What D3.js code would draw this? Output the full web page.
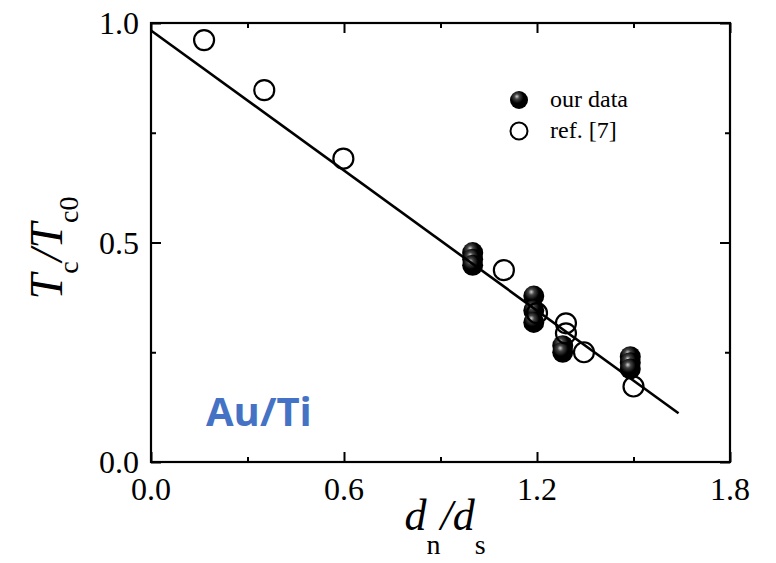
<!DOCTYPE html>
<html>
<head>
<meta charset="utf-8">
<script src="https://cdn.jsdelivr.net/npm/d3@7"></script>
<style>
  body { margin: 0; background: #fff; }
  text { font-family: "Liberation Serif", "Times New Roman", serif; }
</style>
</head>
<body>
<div id="chart"></div>
<script>
// values
var ourX = [1.0, 1.0, 1.0, 1.19, 1.19, 1.19, 1.28, 1.28, 1.49, 1.49, 1.49];
var ourY = [0.477, 0.462, 0.448, 0.378, 0.345, 0.318, 0.265, 0.25, 0.24, 0.226, 0.212];
var refX = [0.165, 0.352, 0.598, 1.097, 1.2, 1.29, 1.29, 1.346, 1.5];
var refY = [0.961, 0.847, 0.691, 0.437, 0.339, 0.316, 0.293, 0.25, 0.172];
var fitX = [0, 1.64];
var fitY = [0.983, 0.111];
var xMajor = [0, 0.6, 1.2, 1.8];
var xMinor = [0.3, 0.9, 1.5];
var yMajor = [0, 0.5, 1.0];
var yMinor = [0.25, 0.75];

var width = 776, height = 563;
var pL = 151, pR = 730, pT = 23, pB = 462;

var svg = d3.select('#chart').append('svg')
    .attr('width', width)
    .attr('height', height);

var x = d3.scaleLinear().domain([0, 1.8]).range([pL, pR]);
var y = d3.scaleLinear().domain([0, 1.0]).range([pB, pT]);

// gradient for the shiny filled balls
var grad = svg.append('defs').append('radialGradient')
    .attr('id', 'ball')
    .attr('cx', '40%').attr('cy', '35%').attr('r', '65%')
    .attr('fx', '38%').attr('fy', '30%');
grad.append('stop').attr('offset', '0%').attr('stop-color', '#d0d0d0');
grad.append('stop').attr('offset', '22%').attr('stop-color', '#444');
grad.append('stop').attr('offset', '55%').attr('stop-color', '#000');

// ticks on all four sides, pointing in
var axes = svg.append('g');
axes.append('g').attr('transform', 'translate(0,' + pB + ')')
  .call(d3.axisTop(x).tickValues(xMajor).tickSize(10).tickFormat(''));
axes.append('g').attr('transform', 'translate(0,' + pB + ')')
  .call(d3.axisTop(x).tickValues(xMinor).tickSize(5).tickFormat(''));
axes.append('g').attr('transform', 'translate(0,' + pT + ')')
  .call(d3.axisBottom(x).tickValues(xMajor).tickSize(10).tickFormat(''));
axes.append('g').attr('transform', 'translate(0,' + pT + ')')
  .call(d3.axisBottom(x).tickValues(xMinor).tickSize(5).tickFormat(''));
axes.append('g').attr('transform', 'translate(' + pL + ',0)')
  .call(d3.axisRight(y).tickValues(yMajor).tickSize(10).tickFormat(''));
axes.append('g').attr('transform', 'translate(' + pL + ',0)')
  .call(d3.axisRight(y).tickValues(yMinor).tickSize(5).tickFormat(''));
axes.append('g').attr('transform', 'translate(' + pR + ',0)')
  .call(d3.axisLeft(y).tickValues(yMajor).tickSize(10).tickFormat(''));
axes.append('g').attr('transform', 'translate(' + pR + ',0)')
  .call(d3.axisLeft(y).tickValues(yMinor).tickSize(5).tickFormat(''));
axes.selectAll('.domain').remove();
axes.selectAll('.tick line').attr('stroke', '#000').attr('stroke-width', 2);

svg.append('rect')
    .attr('x', pL).attr('y', pT)
    .attr('width', pR - pL).attr('height', pB - pT)
    .attr('fill', 'none').attr('stroke', '#000').attr('stroke-width', 2.2);

// tick labels
svg.append('g').selectAll('text')
  .data(xMajor).enter().append('text')
    .attr('x', function(d) { return x(d); })
    .attr('y', pB + 38)
    .attr('text-anchor', 'middle')
    .attr('font-size', 32)
    .text(function(d) { return d3.format('.1f')(d); });
svg.append('g').selectAll('text')
  .data(yMajor).enter().append('text')
    .attr('x', pL - 12)
    .attr('y', function(d) { return y(d) + 11; })
    .attr('text-anchor', 'end')
    .attr('font-size', 32)
    .text(function(d) { return d3.format('.1f')(d); });

// Au/Ti label
svg.append('text')
    .attr('x', 206).attr('y', 426)
    .attr('font-weight', 'bold')
    .attr('font-size', 40)
    .attr('fill', '#4472c4')
    .style('font-family', '"Open Sans", sans-serif')
    .text('Au/Ti');

// fit line
var fit = d3.zip(fitX, fitY);

// filled points
svg.append('g').selectAll('circle')
  .data(d3.zip(ourX, ourY)).enter().append('circle')
    .attr('cx', function(d) { return x(d[0]); })
    .attr('cy', function(d) { return y(d[1]); })
    .attr('r', 10.5)
    .attr('fill', 'url(#ball)');

// open points
svg.append('g').selectAll('circle')
  .data(d3.zip(refX, refY)).enter().append('circle')
    .attr('cx', function(d) { return x(d[0]); })
    .attr('cy', function(d) { return y(d[1]); })
    .attr('r', 10)
    .attr('fill', 'none')
    .attr('stroke', '#000')
    .attr('stroke-width', 2.2);

svg.append('path')
    .datum(fit)
    .attr('d', d3.line().x(function(d) { return x(d[0]); }).y(function(d) { return y(d[1]); }))
    .attr('stroke', '#000')
    .attr('stroke-width', 2.6)
    .attr('fill', 'none');

// legend
var legend = svg.append('g');
legend.append('circle').attr('cx', 519).attr('cy', 100).attr('r', 9).attr('fill', 'url(#ball)');
legend.append('circle').attr('cx', 519).attr('cy', 131).attr('r', 8.5)
    .attr('fill', 'none').attr('stroke', '#000').attr('stroke-width', 2);
legend.append('text').attr('x', 550).attr('y', 107).attr('font-size', 24).text('our data');
legend.append('text').attr('x', 550).attr('y', 138).attr('font-size', 24).text('ref. [7]');

// axis titles
var xt = svg.append('text')
    .attr('x', 445).attr('y', 530)
    .attr('text-anchor', 'middle')
    .attr('font-size', 44);
xt.append('tspan').attr('font-style', 'italic').text('d');
xt.append('tspan').attr('font-size', 28).attr('dy', 24).text('n');
xt.append('tspan').attr('font-style', 'italic').attr('dy', -24).text('/d');
xt.append('tspan').attr('font-size', 28).attr('dy', 24).text('s');

var yt = svg.append('text')
    .attr('transform', 'translate(62,248) rotate(-90)')
    .attr('text-anchor', 'middle')
    .attr('font-size', 46);
yt.append('tspan').attr('font-style', 'italic').text('T');
yt.append('tspan').attr('font-size', 28).attr('dy', 16).text('c');
yt.append('tspan').attr('font-style', 'italic').attr('dy', -16).text('/T');
yt.append('tspan').attr('font-size', 28).attr('dy', 16).text('c0');
</script>
</body>
</html>
